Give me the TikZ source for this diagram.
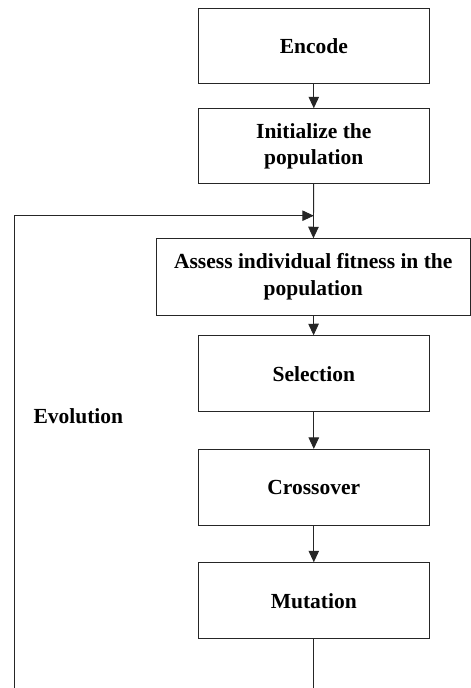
\documentclass[tikz,border=0pt]{standalone}
\usepackage{fontspec}
\setmainfont{Liberation Serif}
\usetikzlibrary{arrows.meta}
\begin{document}
\begin{tikzpicture}[x=1pt,y=-1pt,
  box/.style={draw=black!85, line width=0.9pt, minimum width=231pt, minimum height=75pt,
    align=center, inner sep=2pt, font=\fontsize{21.5}{26.7}\selectfont\bfseries},
  conn/.style={draw=black!85, line width=0.9pt},
  arr/.style={conn, -{Triangle[length=11.5pt,width=10.5pt]}},
  lbl/.style={font=\fontsize{21.5}{26.7}\selectfont\bfseries, inner sep=0pt}]
\useasboundingbox (0,0) rectangle (471,688);
\node[box] (enc) at (313.8,46.2) {Encode};
\node[box] (init) at (313.8,146.2) {Initialize the\\population};
\node[box, minimum width=313.3pt, minimum height=76.6pt] (assess) at (313.3,277) {Assess individual fitness in the\\population};
\node[box, minimum height=76pt] (sel) at (313.8,373.7) {Selection};
\node[box, minimum height=75.7pt] (cross) at (313.8,487.2) {Crossover};
\node[box, minimum height=76pt] (mut) at (313.8,600.7) {Mutation};
\node[lbl, anchor=base west] (evo) at (33.3,423) {Evolution};
\coordinate (bl) at (14.7,689);
\coordinate (tl) at (14.7,215.7);
\coordinate (join) at (init.south |- tl);
\coordinate (br) at (mut.south |- bl);
\draw[arr] (enc) -- (init);
\draw[arr] (init) -- (assess);
\draw[arr] (assess) -- (sel);
\draw[arr] (sel) -- (cross);
\draw[arr] (cross) -- (mut);
\draw[conn] (mut) -- (br);
\draw[arr] (bl) -- (tl) -- (join);
\end{tikzpicture}
\end{document}
